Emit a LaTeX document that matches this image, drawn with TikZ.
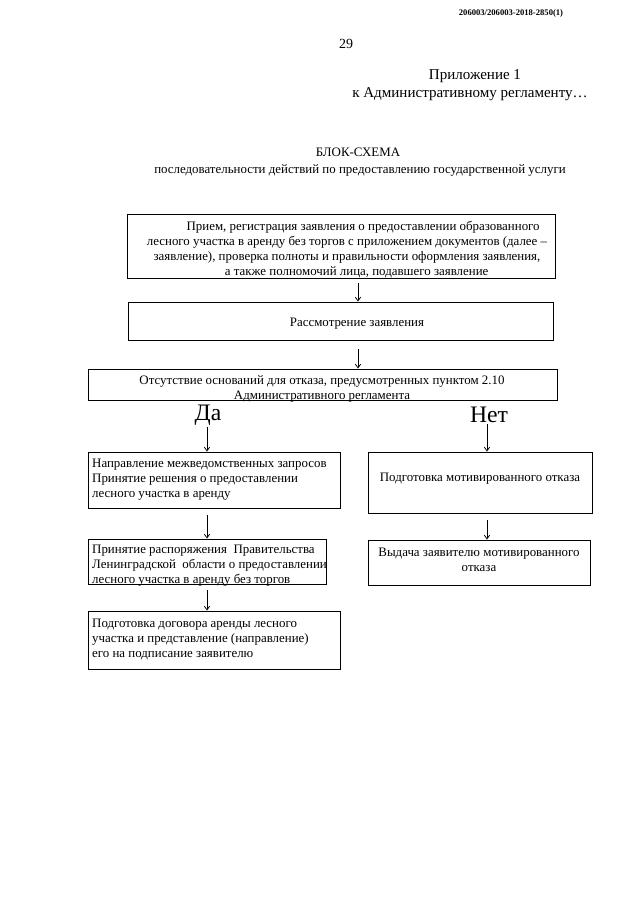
\documentclass[tikz,border=0pt]{standalone}
\usepackage{fontspec}
\setmainfont{Liberation Serif}
\usetikzlibrary{arrows.meta,fit}
\begin{document}
\begin{tikzpicture}[x=0.9302pt,y=-0.9302pt,
  box/.style={draw, line width=0.9pt, inner sep=0pt},
  txt/.style={font=\fontsize{12}{14}\selectfont, inner sep=0pt},
  big/.style={font=\fontsize{22}{24}\selectfont, inner sep=0pt},
  arr/.style={-{Straight Barb[length=3.5pt,width=5pt]}, line width=0.7pt, shorten <=4pt}]
\useasboundingbox (0,0) rectangle (640,905);
\fill[white] (0,0) rectangle (640,905);

% header
\node[font=\fontsize{8}{9}\selectfont\bfseries, inner sep=0pt] (hdr) at (511,13) {206003/206003-2018-2850(1)};
\node[font=\fontsize{13}{15}\selectfont, inner sep=0pt] (pg) at (346,44) {29};
\node[font=\fontsize{14}{16}\selectfont, inner sep=0pt] (app1) at (475,76) {Приложение 1};
\node[font=\fontsize{14}{16}\selectfont, inner sep=0pt] (app2) at (470,94) {к Административному регламенту…};
\node[txt] (title) at (358,152) {БЛОК-СХЕМА};
\node[txt] (sub) at (360,170) {последовательности действий по предоставлению государственной услуги};

% boxes
\node[box, fit={(127,214) (555,278)}] (b1) {};
\node[box, fit={(128,302) (553,340)}] (b2) {};
\node[box, fit={(88,369) (557,400)}] (b3) {};
\node[box, fit={(88,452) (340,508)}] (b4) {};
\node[box, fit={(88,539) (326,584)}] (b5) {};
\node[box, fit={(88,611) (340,669)}] (b6) {};
\node[box, fit={(368,452) (592,513)}] (b7) {};
\node[box, fit={(368,540) (590,585)}] (b8) {};

% texts
\node[txt, align=center] (t1) at (347,249.5) {\hspace*{30pt}Прием, регистрация заявления о предоставлении образованного\\лесного участка в аренду без торгов с приложением документов (далее –\\заявление), проверка полноты и правильности оформления заявления,\\\hspace*{18pt}а также полномочий лица, подавшего заявление};
\node[txt] (t2) at (357,324) {Рассмотрение заявления};
\node[txt, align=center] (t3) at (322,389) {Отсутствие оснований для отказа, предусмотренных пунктом 2.10\\Административного регламента};
\node[big] (da) at (208,415) {Да};
\node[big] (net) at (489,415) {Нет};
\node[txt, align=left, anchor=north west] (t4) at (92,459) {Направление межведомственных запросов\\Принятие решения о предоставлении\\лесного участка в аренду};
\node[txt, align=left, anchor=north west] (t5) at (92,545) {Принятие распоряжения~ Правительства\\Ленинградской~ области о предоставлении\\лесного участка в аренду без торгов};
\node[txt, align=left, anchor=north west] (t6) at (92,619) {Подготовка договора аренды лесного\\участка и представление (направление)\\его на подписание заявителю};
\node[txt] (t7) at (480,479) {Подготовка мотивированного отказа};
\node[txt, align=center] (t8) at (479,559.5) {Выдача заявителю мотивированного\\отказа};

% arrow columns
\coordinate (cm) at (358,0);
\coordinate (cl) at (207,0);
\coordinate (cr) at (487,0);

\draw[arr] (b1.south -| cm) -- (b2.north -| cm);
\draw[arr, shorten <=8pt] (b2.south -| cm) -- (b3.north -| cm);
\draw[arr, shorten <=1pt] (da.south -| cl) -- (b4.north -| cl);
\draw[arr, shorten <=1pt] (net.south -| cr) -- (b7.north -| cr);
\draw[arr, shorten <=6pt] (b4.south -| cl) -- (b5.north -| cl);
\draw[arr, shorten <=6pt] (b7.south -| cr) -- (b8.north -| cr);
\draw[arr, shorten <=5pt] (b5.south -| cl) -- (b6.north -| cl);
\end{tikzpicture}
\end{document}
